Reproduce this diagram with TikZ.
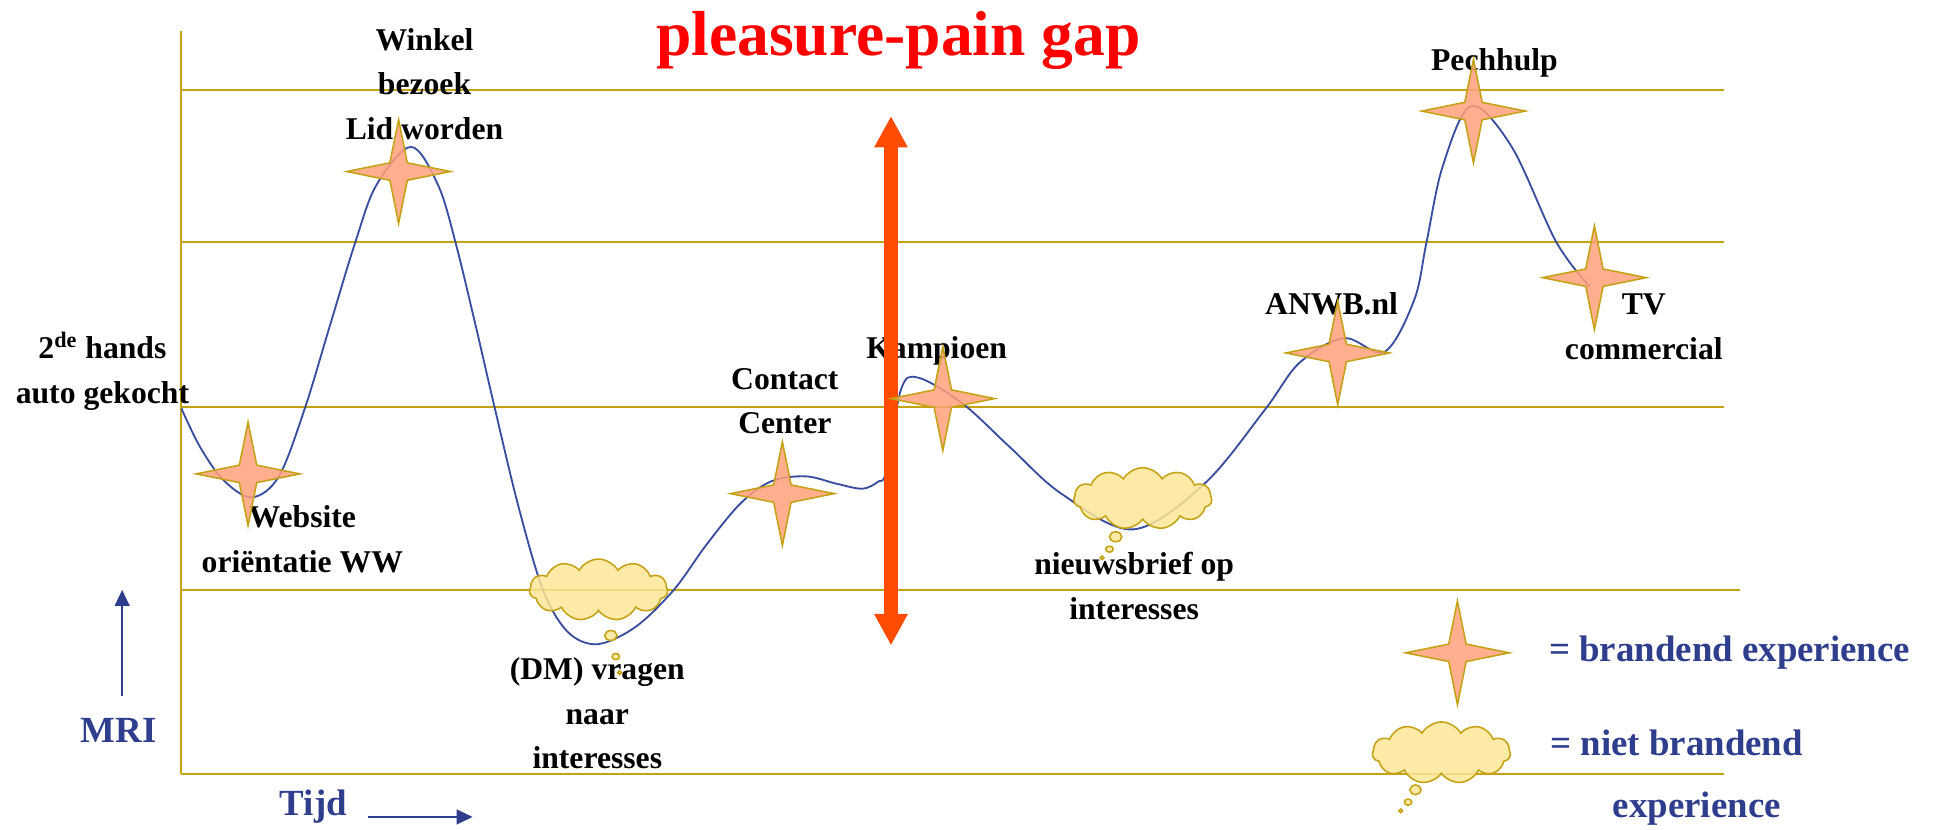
\documentclass[tikz,border=0pt]{standalone}
\usepackage{fontspec}
\setmainfont{Liberation Serif}
\usetikzlibrary{arrows.meta, shapes.geometric, shapes.symbols}

\definecolor{goudlijn}{RGB}{196,162,20}
\definecolor{curveblauw}{RGB}{58,78,160}
\definecolor{tekstblauw}{RGB}{46,62,140}
\definecolor{zalm}{RGB}{255,160,122}
\definecolor{wolkgeel}{RGB}{253,230,150}
\definecolor{oranjerood}{RGB}{255,76,0}

\begin{document}
\begin{tikzpicture}[x=0.2mm, y=-0.2mm]
    \useasboundingbox (0,0) rectangle (1568,672);

    % --- 1. As en hulplijnen (goud) ---
    \tikzset{hulplijn/.style={goudlijn, line width=0.3mm}}
    \draw[hulplijn] (147,25) -- (147,627);
    \foreach \y in {73,196,330}
        \draw[hulplijn] (147,\y) -- (1397,\y);
    \draw[hulplijn] (147,478) -- (1410,478);
    \draw[hulplijn] (147,627) -- (1397,627);

    % --- 2. Belevingscurve ---
    \draw[curveblauw, line width=0.3mm] plot[smooth, tension=0.55] coordinates {
        (147,331) (162,362) (181,389) (204,403) (226,386) (247,331) (267,265)
        (288,196) (305,150) (333,119) (355,150) (369,196) (385,262) (401,331)
        (420,410) (440,478) (460,512) (484,522) (515,508) (546,478) (572,442)
        (600,408) (625,390) (653,386) (678,392) (699,396) (712,390) (718,382)
        (730,316) (744,306) (780,327) (818,362) (860,400) (918,429) (976,392)
        (1025,332) (1053,294) (1089,274) (1122,285) (1146,243) (1156,196)
        (1169,135) (1192,86) (1225,119) (1261,196) (1288,232)};

    % --- 3. Beschriftingen bij de momenten ---
    \tikzset{lbl/.style={font=\fontsize{14.6}{20.6}\selectfont\bfseries, align=center, inner sep=0pt}}
    \node[lbl] (txt-gekocht) at (83,301) {2\textsuperscript{de} hands\\auto gekocht};
    \node[lbl] (txt-website) at (245,437) {Website\\oriëntatie WW};
    \node[lbl] (txt-winkel) at (344,68) {Winkel\\bezoek\\Lid worden};
    \node[lbl] (txt-dm) at (484,578) {(DM) vragen\\naar\\interesses};
    \node[lbl] (txt-contact) at (636,325) {Contact\\Center};
    \node[lbl] (txt-kampioen) at (759,284) {Kampioen};
    \node[lbl] (txt-nieuwsbrief) at (919,475) {nieuwsbrief op\\interesses};
    \node[lbl] (txt-anwb) at (1079,246) {ANWB.nl};
    \node[lbl] (txt-pechhulp) at (1211,51) {Pechhulp};
    \node[lbl] (txt-tv) at (1332,265) {TV\\commercial};

    % Titel
    \node[font=\fontsize{29.3}{35}\selectfont\bfseries, text=red, anchor=base, inner sep=0pt] (titel) at (728,45) {pleasure-pain gap};

    % --- 4. Pleasure-pain gap (dubbele pijl) ---
    \tikzset{gappijl/.style={{Triangle[length=5.1mm, width=5.1mm]}-{Triangle[length=5.1mm, width=5.1mm]}, line width=2.4mm, oranjerood}}
    \coordinate (gap-boven) at (722,94);
    \coordinate (gap-onder) at (722,523);
    \draw[gappijl] (gap-onder) -- (gap-boven);

    % --- 5. Sterren (brandend experience) ---
    \tikzset{brandster/.style={star, star points=4, star point ratio=4.2, minimum size=16.8mm, inner sep=0pt,
        draw=goudlijn, line width=0.25mm, fill=zalm, fill opacity=0.85}}
    \node[brandster] (ster-website) at (201,384) {};
    \node[brandster] (ster-winkel) at (323,139) {};
    \node[brandster] (ster-contact) at (634,400) {};
    \node[brandster] (ster-kampioen) at (764,323) {};
    \node[brandster] (ster-anwb) at (1084,286) {};
    \node[brandster] (ster-pechhulp) at (1194,90) {};
    \node[brandster] (ster-tv) at (1292,225) {};

    % --- 6. Wolken (niet brandend experience) ---
    \tikzset{wolk/.style={cloud, cloud puffs=11, cloud puff arc=120, aspect=2.2, minimum width=22.4mm, minimum height=10mm,
        inner sep=0pt, draw=goudlijn, line width=0.25mm, fill=wolkgeel, fill opacity=0.85}}
    \tikzset{bel/.style={draw=goudlijn, line width=0.25mm, fill=wolkgeel, fill opacity=0.85}}
    \node[wolk] (wolk-dm) at (485,478) {};
    \draw[bel] (495,515) ellipse [x radius=5, y radius=4];
    \draw[bel] (499,532) ellipse [x radius=3, y radius=2.5];
    \draw[bel] (502,545) circle [radius=1.5];

    \node[wolk] (wolk-nieuwsbrief) at (926,404) {};
    \draw[bel] (904,435) ellipse [x radius=5, y radius=4];
    \draw[bel] (899,445) ellipse [x radius=3, y radius=2.5];
    \draw[bel] (893,452) circle [radius=1.5];

    % --- 7. Legenda ---
    \tikzset{legenda/.style={font=\fontsize{17}{20}\selectfont\bfseries, text=tekstblauw, inner sep=0pt}}
    \node[brandster] (ster-legenda) at (1181,529) {};
    \node[legenda, anchor=west] (txt-brandend) at (1255,529) {= brandend experience};
    \node[wolk] (wolk-legenda) at (1168,610) {};
    \draw[bel] (1147,640) ellipse [x radius=4.5, y radius=4];
    \draw[bel] (1141,650) ellipse [x radius=3, y radius=2.5];
    \draw[bel] (1135,657) circle [radius=1.5];
    \node[legenda, anchor=west] (txt-nietbrandend) at (1256,602) {= niet brandend};
    \node[legenda] (txt-experience) at (1375,655) {experience};

    % --- 8. Aspijlen MRI en Tijd ---
    \tikzset{aspijl/.style={-{Triangle[length=2.6mm, width=2.4mm]}, tekstblauw, line width=0.3mm}}
    \node[legenda] (txt-mri) at (96,592) {MRI};
    \coordinate (mri-start) at (99,564);
    \coordinate (mri-eind) at (99,478);
    \draw[aspijl] (mri-start) -- (mri-eind);

    \node[legenda] (txt-tijd) at (254,654) {Tijd};
    \coordinate (tijd-start) at (298,662);
    \coordinate (tijd-eind) at (383,662);
    \draw[aspijl] (tijd-start) -- (tijd-eind);

\end{tikzpicture}
\end{document}
